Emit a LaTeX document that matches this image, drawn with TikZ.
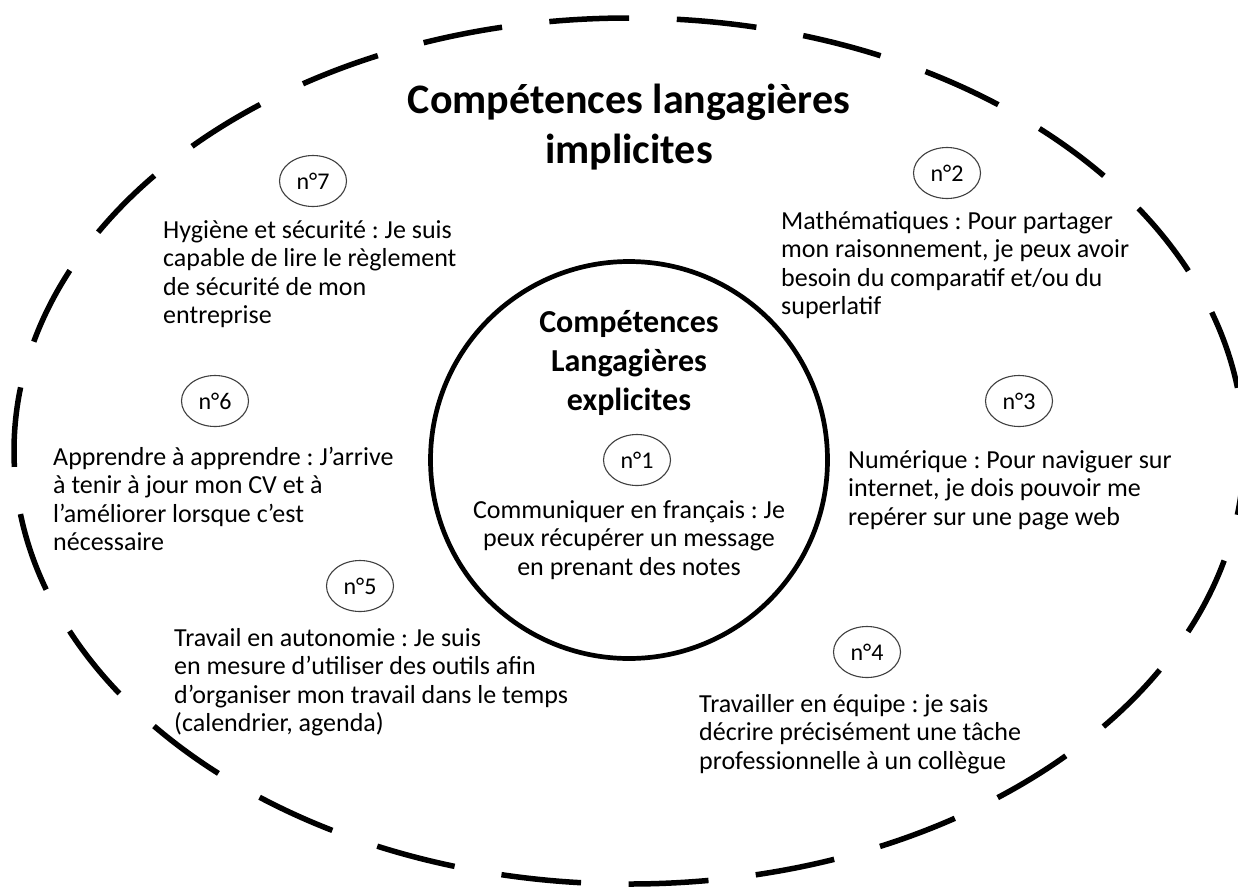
\documentclass[tikz,border=0pt]{standalone}
\usepackage{fontspec}
\setmainfont{Carlito}
\usetikzlibrary{shapes.geometric}
\frenchspacing
\begin{document}
\begin{tikzpicture}[x=1pt,y=-1pt,
  bodytext/.style={inner sep=0pt, align=left, anchor=north west, font=\fontsize{26}{28.5}\selectfont\frenchspacing},
  centertext/.style={inner sep=0pt, align=center, anchor=north, font=\fontsize{26}{28.5}\selectfont\frenchspacing},
  numlabel/.style={ellipse, draw=black!75, line width=1.1pt, minimum width=67pt, minimum height=51pt, inner sep=0pt, font=\fontsize{24}{28}\selectfont},
  bigtitle/.style={inner sep=0pt, align=center, anchor=north, font=\fontsize{42}{50}\selectfont\bfseries},
  innertitle/.style={inner sep=0pt, align=center, anchor=north, font=\fontsize{32}{39}\selectfont\bfseries},
  outerring/.style={draw=black, line width=5.5pt, line cap=butt, dash pattern=on 80pt off 47.59pt, dash phase=15.7pt},
  innerring/.style={circle, draw=black, line width=4.7pt, minimum size=397pt, inner sep=0pt}
]
\useasboundingbox (0,0) rectangle (1238,886);
\fill[white] (0,0) rectangle (1238,886);

\coordinate (oc) at (629,451);
\draw[outerring] (oc) ellipse [x radius=615, y radius=433];
\node[innerring] (inner) at (629,460) {};

\node[bigtitle] (title) at (629,78) {\strut Compétences langagières\\implicites};
\node[innertitle] (ititle) at (629,304.7) {\strut Compétences\\Langagières\\explicites};

\node[numlabel] (n1) at (637,460) {n°1};
\node[numlabel] (n2) at (947,173) {n°2};
\node[numlabel] (n3) at (1019,401) {n°3};
\node[numlabel] (n4) at (867,652) {n°4};
\node[numlabel] (n5) at (360,586) {n°5};
\node[numlabel] (n6) at (215,401) {n°6};
\node[numlabel] (n7) at (313,181) {n°7};

\node[centertext] (t1) at (629,498) {\strut Communiquer en français : Je\\peux récupérer un message\\en prenant des notes};
\node[bodytext] (t2) at (781,209) {\strut Mathématiques : Pour partager\\mon raisonnement, je peux avoir\\besoin du comparatif et/ou du\\superlatif};
\node[bodytext] (t3) at (848,448) {\strut Numérique : Pour naviguer sur\\internet, je dois pouvoir me\\repérer sur une page web};
\node[bodytext] (t4) at (699,692) {\strut Travailler en équipe : je sais\\décrire précisément une tâche\\professionnelle à un collègue};
\node[bodytext] (t5) at (174,626) {\strut Travail en autonomie : Je suis\\en mesure d’utiliser des outils afin\\d’organiser mon travail dans le temps\\(calendrier, agenda)};
\node[bodytext] (t6) at (53,445) {\strut Apprendre à apprendre : J’arrive\\à tenir à jour mon CV et à\\l’améliorer lorsque c’est\\nécessaire};
\node[bodytext] (t7) at (163,218) {\strut Hygiène et sécurité : Je suis\\capable de lire le règlement\\de sécurité de mon\\entreprise};
\end{tikzpicture}
\end{document}
